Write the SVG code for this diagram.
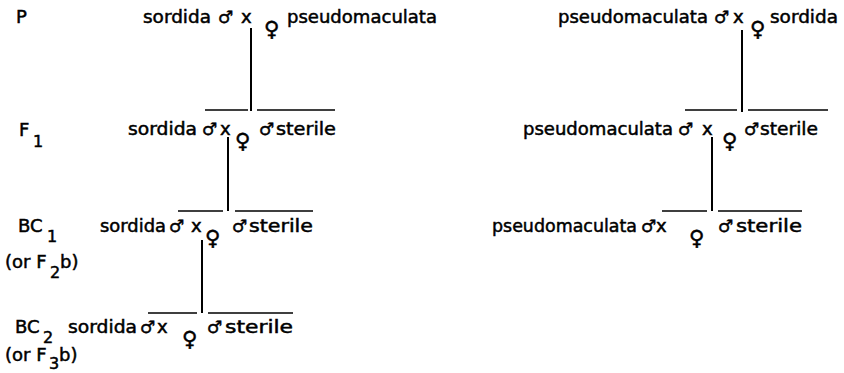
<svg xmlns="http://www.w3.org/2000/svg" width="844" height="373" viewBox="0 0 844 373">
<style>
text{font-family:"DejaVu Sans","Liberation Sans",sans-serif;font-size:18px;fill:#000;stroke:#000;stroke-width:0.5}
.m{font-size:17px}
.f{font-size:21px}
.sub{font-size:16px}
.ln{stroke:#000;stroke-width:1.6;fill:none}
.vl{stroke:#000;stroke-width:2;fill:none}
</style>
<rect width="844" height="373" fill="#fff"/>
<g id="labels">
<text x="16" y="23">P</text>
<text x="19" y="136">F</text><text class="sub" x="33" y="147">1</text>
<text x="18" y="232">BC</text><text class="sub" x="47" y="242">1</text>
<text x="5" y="268">(or F</text><text class="sub" x="50" y="278">2</text><text x="60" y="268">b)</text>
<text x="15" y="333">BC</text><text class="sub" x="43" y="343">2</text>
<text x="5" y="361">(or F</text><text class="sub" x="49" y="369">3</text><text x="59" y="361">b)</text>
</g>
<g id="p-left">
<text x="143" y="23" textLength="68" lengthAdjust="spacingAndGlyphs">sordida</text>
<text class="m" x="218" y="23">♂</text>
<text x="241" y="23">x</text>
<text class="f" x="264" y="36">♀</text>
<text x="287" y="23" textLength="150" lengthAdjust="spacingAndGlyphs">pseudomaculata</text>
</g>
<g id="p-right">
<text x="558" y="23" textLength="150" lengthAdjust="spacingAndGlyphs">pseudomaculata</text>
<text class="m" x="714" y="23">♂</text>
<text x="733" y="23">x</text>
<text class="f" x="750" y="36">♀</text>
<text x="770" y="23" textLength="68" lengthAdjust="spacingAndGlyphs">sordida</text>
</g>
<g id="f1-left">
<text x="128" y="135" textLength="69" lengthAdjust="spacingAndGlyphs">sordida</text>
<text class="m" x="202" y="135">♂</text>
<text x="220" y="135">x</text>
<text class="f" x="235" y="148">♀</text>
<text class="m" x="259" y="135">♂</text>
<text x="276" y="135" textLength="60" lengthAdjust="spacingAndGlyphs">sterile</text>
</g>
<g id="f1-right">
<text x="523" y="135" textLength="150" lengthAdjust="spacingAndGlyphs">pseudomaculata</text>
<text class="m" x="678" y="135">♂</text>
<text x="702" y="135">x</text>
<text class="f" x="722" y="148">♀</text>
<text class="m" x="744" y="135">♂</text>
<text x="760" y="135" textLength="58" lengthAdjust="spacingAndGlyphs">sterile</text>
</g>
<g id="bc1-left">
<text x="100" y="232" textLength="66" lengthAdjust="spacingAndGlyphs">sordida</text>
<text class="m" x="169" y="232">♂</text>
<text x="191" y="232">x</text>
<text class="f" x="205" y="245">♀</text>
<text class="m" x="232" y="232">♂</text>
<text x="249" y="232" textLength="64" lengthAdjust="spacingAndGlyphs">sterile</text>
</g>
<g id="bc1-right">
<text x="492" y="232" textLength="145" lengthAdjust="spacingAndGlyphs">pseudomaculata</text>
<text class="m" x="641" y="232">♂</text>
<text x="656" y="232">x</text>
<text class="f" x="689" y="245">♀</text>
<text class="m" x="718" y="232">♂</text>
<text x="736" y="232" textLength="66" lengthAdjust="spacingAndGlyphs">sterile</text>
</g>
<g id="bc2-left">
<text x="68" y="333" textLength="69" lengthAdjust="spacingAndGlyphs">sordida</text>
<text class="m" x="140" y="333">♂</text>
<text x="157" y="333">x</text>
<text class="f" x="182" y="346">♀</text>
<text class="m" x="207" y="333">♂</text>
<text x="225" y="333" textLength="68" lengthAdjust="spacingAndGlyphs">sterile</text>
</g>
<g id="connectors">
<path class="vl" d="M251 28V111M742 30V112M228 137V211M712 137V211M202 240V313"/>
<path class="ln" d="M205 110H248M257 110H335M685 110H737M748 110H828M178 211H223M235 211H313M662 211H707M718 211H802M148 313H197M208 313H293"/>
</g>
</svg>
